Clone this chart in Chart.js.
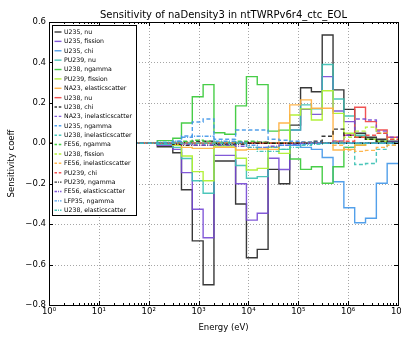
<!DOCTYPE html>
<html>
<head>
<meta charset="utf-8">
<script src="https://cdn.jsdelivr.net/npm/chart.js@4.4.0/dist/chart.umd.min.js"></script>
<style>
  html, body { margin: 0; padding: 0; background: #fff; }
  #wrap { width: 401px; height: 337px; }
</style>
</head>
<body>
<div id="wrap"><canvas id="sens" width="401" height="337"></canvas></div>
<script>
// ─── DATA ───
// 33-group energy boundaries (eV), ascending
const edges = [1e-5, 0.417, 0.54, 4.0, 8.315, 13.71, 22.60, 40.17, 67.90, 91.66, 148.6,
  304.3, 454.0, 748.5, 1234, 2035, 3355, 5531, 9119, 15030, 24790, 40870, 67380,
  111100, 183200, 302000, 497900, 820900, 1353000, 2231000, 3679000, 6065000, 1e7, 1.964e7];

const names = ['U235, nu', 'U235, fission', 'U235, chi', 'PU239, nu', 'U238, ngamma',
  'PU239, fission', 'NA23, elasticscatter', 'U238, nu', 'U238, chi', 'NA23, inelasticscatter',
  'U235, ngamma', 'U238, inelasticscatter', 'FE56, ngamma', 'U238, fission',
  'FE56, inelasticscatter', 'PU239, chi', 'PU239, ngamma', 'FE56, elasticscatter',
  'LFP35, ngamma', 'U238, elasticscatter'];

// one value per group, lowest energy first
const u235Nu        = [0,0,0,0,0,0,0,0,0,0, 0, -0.017, -0.047, -0.23, -0.483, -0.70, -0.088, -0.088, -0.30, -0.566, -0.525, -0.129, -0.20, 0.09, 0.275, 0.255, 0.536, 0.264, 0.168, 0.05, 0.03, 0.02, 0.01];
const u235Fission   = [0,0,0,0,0,0,0,0,0,0, 0, -0.01, -0.03, -0.145, -0.326, -0.467, -0.06, -0.06, -0.20, -0.38, -0.346, -0.074, -0.13, 0.066, 0.168, 0.143, 0.33, 0.16, 0.107, 0.03, 0.02, 0.01, 0.005];
const u235Chi       = [0,0,0,0,0,0,0,0,0,0, 0, 0, 0, 0, 0, 0, 0, 0, 0, 0, 0, 0, 0, -0.01, -0.02, -0.03, -0.07, -0.19, -0.319, -0.393, -0.371, -0.198, -0.1];
const pu239Nu       = [0,0,0,0,0,0,0,0,0,0, 0, -0.005, -0.02, -0.075, -0.185, -0.247, -0.01, -0.01, -0.11, -0.173, -0.165, -0.02, -0.03, 0.066, 0.19, 0.17, 0.39, 0.219, 0.135, 0.04, 0.02, 0.01, 0];
const u238Ngamma    = [0,0,0,0,0,0,0,0,0,0, 0, 0.013, 0.025, 0.10, 0.23, 0.29, 0.052, 0.045, 0.185, 0.33, 0.29, 0.06, 0.065, -0.078, -0.129, -0.116, -0.198, -0.116, -0.02, -0.01, 0, 0, 0];
const pu239Fission  = [0,0,0,0,0,0,0,0,0,0, 0, 0, -0.01, -0.063, -0.14, -0.185, -0.014, -0.014, -0.074, -0.132, -0.124, -0.02, -0.05, 0.14, 0.17, 0.115, 0.26, 0.148, 0.05, 0.03, 0.02, 0.01, 0];
const na23Elastic   = [0,0,0,0,0,0,0,0,0,0, 0, 0, -0.005, -0.02, -0.025, -0.025, -0.02, -0.02, -0.033, -0.03, -0.028, -0.03, 0.10, 0.19, 0.215, 0.173, 0.173, -0.033, -0.03, -0.01, 0, 0, 0];
const u238Nu        = [0,0,0,0,0,0,0,0,0,0, 0, 0, 0, 0, 0, 0, 0, 0, 0, 0, 0, 0, 0, 0, 0, 0, 0, 0.01, 0.04, 0.178, 0.107, 0.066, 0.03];
const u238Chi       = [0,0,0,0,0,0,0,0,0,0, 0, 0, 0, 0.005, 0.01, 0.01, 0, 0, 0.005, 0.005, 0.005, 0, 0, 0, 0.005, 0.01, 0.035, 0.07, 0.04, 0.03, 0.02, 0.01, 0];
const na23Inelastic = [0,0,0,0,0,0,0,0,0,0, 0, 0, 0, 0, 0, 0, 0, 0, 0, 0, 0, 0, 0, 0, 0, 0, 0, 0.01, 0.04, 0.12, 0.115, 0.06, 0.03];
const u235Ngamma    = [0,0,0,0,0,0,0,0,0,0, 0, 0, 0.01, 0.036, 0.105, 0.12, 0.02, 0.02, 0.066, 0.066, 0.066, 0.02, 0.015, 0.01, 0.005, 0.005, 0, 0, 0, 0, 0, 0, 0];
const u238Inelastic = [0,0,0,0,0,0,0,0,0,0, 0, 0, 0, 0, 0, 0, 0, 0, 0, 0, 0, 0, 0, 0, 0, 0, 0, 0, -0.02, -0.105, -0.1, -0.03, -0.01];
const fe56Ngamma    = [0,0,0,0,0,0,0,0,0,0, 0, 0, 0.005, 0.01, 0.015, 0.01, 0.005, 0.005, 0.01, 0.01, 0.005, 0, 0, 0, 0, 0, 0, 0, 0, 0, 0, 0, 0];
const u238Fission   = [0,0,0,0,0,0,0,0,0,0, 0, 0, 0, 0, 0, 0, 0, 0, 0, 0, 0, 0, 0, 0, 0, 0, 0, 0.005, 0.03, 0.06, 0.08, 0.05, 0.02];
const fe56Inelastic = [0,0,0,0,0,0,0,0,0,0, 0, 0, 0, 0, 0, 0, 0, 0, 0, 0, 0, 0, 0, 0, 0, 0, 0, -0.01, -0.033, -0.04, -0.035, -0.02, -0.01];
const pu239Chi      = [0,0,0,0,0,0,0,0,0,0, 0, 0, 0, 0, 0, 0, 0, 0, 0, 0, 0, 0, 0, 0, 0, 0, 0, 0, 0.01, 0.03, 0.04, 0.05, 0.02];
const pu239Ngamma   = [0,0,0,0,0,0,0,0,0,0, 0, 0, -0.005, -0.01, -0.01, -0.01, -0.005, -0.005, -0.005, 0, 0, 0, 0, 0, 0, 0, 0, 0, 0, 0, 0, 0, 0];
const fe56Elastic   = [0,0,0,0,0,0,0,0,0,0, 0, 0, 0, -0.005, -0.01, -0.01, -0.01, -0.01, -0.015, -0.02, -0.02, -0.015, -0.01, -0.005, 0, 0, 0, 0, 0, 0, 0, 0, 0];
const lfp35Ngamma   = [0,0,0,0,0,0,0,0,0,0, 0, 0.005, 0.01, 0.03, 0.035, 0.035, 0.01, 0.01, 0.005, -0.01, -0.02, -0.02, -0.01, -0.01, -0.005, 0, 0, 0, 0, 0, 0, 0, 0];
const u238Elastic   = [0,0,0,0,0,0,0,0,0,0, 0, 0, 0, 0, 0, 0, 0, 0, 0, -0.02, -0.04, -0.04, -0.03, -0.02, -0.01, -0.005, 0, 0, 0, 0, 0, 0, 0];

const seriesValues = [u235Nu, u235Fission, u235Chi, pu239Nu, u238Ngamma, pu239Fission,
  na23Elastic, u238Nu, u238Chi, na23Inelastic, u235Ngamma, u238Inelastic, fe56Ngamma,
  u238Fission, fe56Inelastic, pu239Chi, pu239Ngamma, fe56Elastic, lfp35Ngamma, u238Elastic];

const xTickValues = [1, 10, 100, 1e3, 1e4, 1e5, 1e6, 1e7];
const xTickLabels = ['10\u2070', '10\u00b9', '10\u00b2', '10\u00b3', '10\u2074', '10\u2075', '10\u2076', '10\u2077'];
const yTickValues = [-0.8, -0.6, -0.4, -0.2, 0.0, 0.2, 0.4, 0.6];
const yTickLabels = ['\u22120.8', '\u22120.6', '\u22120.4', '\u22120.2', '0.0', '0.2', '0.4', '0.6'];

// ─── STYLE ───
const FONT = '"DejaVu Sans", sans-serif';
const palette = ['rgba(0,0,0,0.78)', 'rgba(118,72,212,0.9)', 'rgba(64,150,232,0.9)', 'rgba(56,192,178,0.9)',
  'rgba(52,200,52,0.9)', 'rgba(176,240,50,0.95)', 'rgba(255,176,64,0.92)', 'rgba(240,68,68,0.92)'];
const dashes = [[], [4, 2.5], [4, 1.5, 1, 1.5]];

const datasets = seriesValues.map((vals, i) => {
  const pts = vals.map((v, g) => ({ x: edges[g], y: v }));
  pts.push({ x: edges[edges.length - 1], y: vals[vals.length - 1] });
  return {
    label: names[i],
    data: pts,
    borderColor: palette[i % 8],
    borderDash: dashes[Math.floor(i / 8)],
    borderWidth: 1.4,
    pointRadius: 0,
    stepped: 'after',
    fill: false,
    order: -i
  };
});

// ─── FRAME, TICKS, GRID, LEGEND, TEXT ───
const decor = {
  id: 'decor',
  beforeDatasetsDraw(chart) {
    const { ctx, chartArea: a, scales: { x, y } } = chart;
    ctx.save();
    ctx.strokeStyle = 'rgba(0,0,0,0.35)';
    ctx.lineWidth = 1;
    ctx.setLineDash([1, 2]);
    xTickValues.slice(1, -1).forEach(v => {
      const px = Math.round(x.getPixelForValue(v)) + 0.5;
      ctx.beginPath(); ctx.moveTo(px, a.top); ctx.lineTo(px, a.bottom); ctx.stroke();
    });
    yTickValues.slice(1, -1).forEach(v => {
      const py = Math.round(y.getPixelForValue(v)) + 0.5;
      ctx.beginPath(); ctx.moveTo(a.left, py); ctx.lineTo(a.right, py); ctx.stroke();
    });
    ctx.restore();
  },
  afterDatasetsDraw(chart) {
    const { ctx, chartArea: a, scales: { x, y } } = chart;
    ctx.save();
    ctx.strokeStyle = '#000';
    ctx.lineWidth = 1;
    ctx.setLineDash([]);
    // ticks
    ctx.beginPath();
    for (let n = 0; n < 7; n++) {
      for (let m = 2; m < 10; m++) {
        const px = Math.round(x.getPixelForValue(m * Math.pow(10, n))) + 0.5;
        ctx.moveTo(px, a.bottom); ctx.lineTo(px, a.bottom - 2);
        ctx.moveTo(px, a.top); ctx.lineTo(px, a.top + 2);
      }
    }
    xTickValues.forEach(v => {
      const px = Math.round(x.getPixelForValue(v)) + 0.5;
      ctx.moveTo(px, a.bottom); ctx.lineTo(px, a.bottom - 4);
      ctx.moveTo(px, a.top); ctx.lineTo(px, a.top + 4);
    });
    yTickValues.forEach(v => {
      const py = Math.round(y.getPixelForValue(v)) + 0.5;
      ctx.moveTo(a.left, py); ctx.lineTo(a.left + 4, py);
      ctx.moveTo(a.right, py); ctx.lineTo(a.right - 4, py);
    });
    ctx.stroke();
    ctx.strokeRect(Math.round(a.left) + 0.5, Math.round(a.top) + 0.5,
      Math.round(a.right - a.left), Math.round(a.bottom - a.top));

    // legend
    const lx = 52.5, ly = 25.5, lw = 84, lh = 190, step = 9.38;
    ctx.fillStyle = '#fff';
    ctx.fillRect(lx, ly, lw, lh);
    ctx.strokeRect(lx, ly, lw, lh);
    ctx.font = '6.2px ' + FONT;
    ctx.textBaseline = 'middle';
    chart.data.datasets.forEach((ds, i) => {
      const cy = ly + 6.5 + i * step;
      ctx.strokeStyle = ds.borderColor;
      ctx.lineWidth = 1.4;
      ctx.setLineDash(ds.borderDash.length ? [2.5, 1.8] : []);
      if (i >= 16) ctx.setLineDash([2.5, 1, 1, 1]);
      ctx.beginPath(); ctx.moveTo(54.5, cy); ctx.lineTo(61.5, cy); ctx.stroke();
      ctx.fillStyle = '#000';
      ctx.fillText(ds.label, 64, cy + 0.3);
    });
    ctx.setLineDash([]);

    // title and axis labels
    const cx = (a.left + a.right) / 2;
    ctx.fillStyle = '#000';
    ctx.textAlign = 'center';
    ctx.textBaseline = 'alphabetic';
    ctx.font = '10px ' + FONT;
    ctx.fillText('Sensitivity of naDensity3 in ntTWRPv6r4_ctc_EOL', cx, 18);
    ctx.font = '8.5px ' + FONT;
    ctx.fillText('Energy (eV)', cx, 330);
    ctx.translate(14, (a.top + a.bottom) / 2);
    ctx.rotate(-Math.PI / 2);
    ctx.fillText('Sensitivity coeff', 0, 0);
    ctx.restore();
  }
};

new Chart(document.getElementById('sens'), {
  type: 'line',
  data: { datasets },
  options: {
    responsive: false,
    animation: false,
    devicePixelRatio: 1,
    layout: { padding: { top: 22, right: 3, bottom: 0, left: 0 } },
    plugins: { legend: { display: false }, tooltip: { enabled: false }, title: { display: false } },
    scales: {
      x: {
        type: 'logarithmic', min: 1, max: 1e7,
        grid: { display: false, drawTicks: false },
        border: { display: false },
        afterBuildTicks: s => { s.ticks = xTickValues.map(v => ({ value: v, major: true })); },
        afterFit: s => { s.height = 32; s.paddingLeft = 0; s.paddingRight = 0; },
        ticks: {
          autoSkip: false, maxRotation: 0, padding: 2, color: '#000',
          font: { family: FONT, size: 8.5 },
          callback: (v, i) => xTickLabels[i]
        }
      },
      y: {
        type: 'linear', min: -0.8, max: 0.6,
        grid: { display: false, drawTicks: false },
        border: { display: false },
        afterBuildTicks: s => { s.ticks = yTickValues.map(v => ({ value: v })); },
        afterFit: s => { s.width = 49; s.paddingTop = 0; s.paddingBottom = 0; },
        ticks: {
          padding: 3, color: '#000',
          font: { family: FONT, size: 8.5 },
          callback: (v, i) => yTickLabels[i]
        }
      }
    }
  },
  plugins: [decor]
});
</script>
</body>
</html>
